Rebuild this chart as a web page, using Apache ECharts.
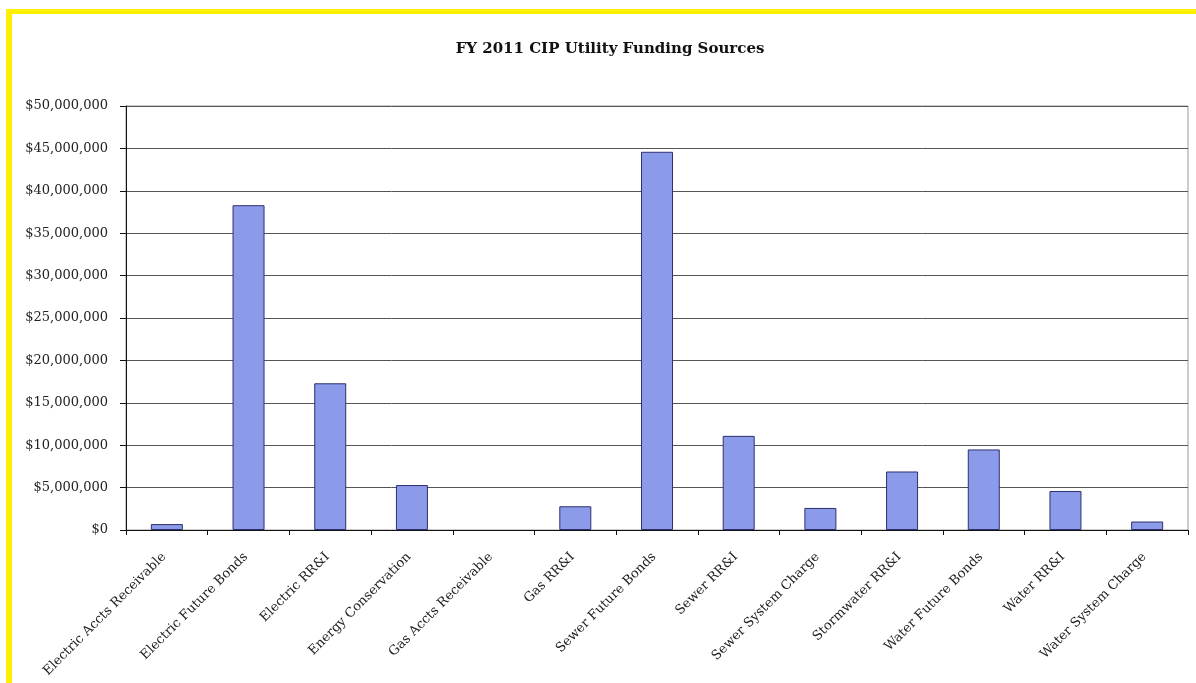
<!DOCTYPE html>
<html>
<head>
<meta charset="utf-8">
<script src="https://cdn.jsdelivr.net/npm/echarts@6/dist/echarts.min.js"></script>
<style>
html,body{margin:0;padding:0;background:#fff;}
#frame{position:absolute;left:6px;top:9px;width:1200px;height:690px;border-left:6px solid #FFF000;border-top:5px solid #FFF000;box-sizing:border-box;}
#chart{position:absolute;left:0;top:0;width:1196px;height:683px;}
</style>
</head>
<body>
<div id="frame"></div>
<div id="chart"></div>
<script>
const titleText = 'FY 2011 CIP Utility Funding Sources';
const categories = [
  'Electric Accts Receivable',
  'Electric Future Bonds',
  'Electric RR&I',
  'Energy Conservation',
  'Gas Accts Receivable',
  'Gas RR&I',
  'Sewer Future Bonds',
  'Sewer RR&I',
  'Sewer System Charge',
  'Stormwater RR&I',
  'Water Future Bonds',
  'Water RR&I',
  'Water System Charge'
];
const fundingValues = [
  700000, 38300000, 17300000, 5300000, 0, 2800000, 44600000,
  11100000, 2600000, 6900000, 9500000, 4600000, 1000000
];
const yMin = 0;
const yMax = 50000000;
const yStep = 5000000;

const barData = fundingValues.map(v => v === 0 ? {value: v, itemStyle: {borderWidth: 0}} : v);

const chart = echarts.init(document.getElementById('chart'), null, {renderer: 'canvas'});
chart.setOption({
  backgroundColor: 'transparent',
  animation: false,
  title: {
    text: titleText,
    left: 605,
    textAlign: 'center',
    top: 37,
    textStyle: {fontFamily: 'DejaVu Serif', fontSize: 15, fontWeight: 'bold', color: '#111'}
  },
  grid: {
    left: 126, right: 8, top: 106, bottom: 153,
    show: true, borderColor: '#999', borderWidth: 1, backgroundColor: 'transparent'
  },
  xAxis: {
    type: 'category',
    data: categories,
    axisLine: {show: true, lineStyle: {color: '#111', width: 1}},
    axisTick: {show: true, length: 5, lineStyle: {color: '#111'}},
    axisLabel: {
      interval: 0, rotate: 45, margin: 22, padding: [0, 4, 0, 0],
      fontFamily: 'DejaVu Serif', fontSize: 13, color: '#222'
    }
  },
  yAxis: {
    type: 'value',
    min: yMin, max: yMax, interval: yStep,
    axisLine: {show: true, lineStyle: {color: '#111', width: 1}},
    axisTick: {show: true, length: 6, lineStyle: {color: '#111'}},
    splitLine: {show: true, lineStyle: {color: '#555', width: 1}},
    axisLabel: {
      margin: 18,
      fontFamily: 'DejaVu Serif', fontSize: 13, color: '#222',
      formatter: v => '$' + v.toLocaleString('en-US')
    }
  },
  series: [{
    type: 'bar',
    data: barData,
    barWidth: 32,
    itemStyle: {color: '#8C9AEA', borderColor: '#2E3070', borderWidth: 1}
  }]
});
</script>
</body>
</html>
